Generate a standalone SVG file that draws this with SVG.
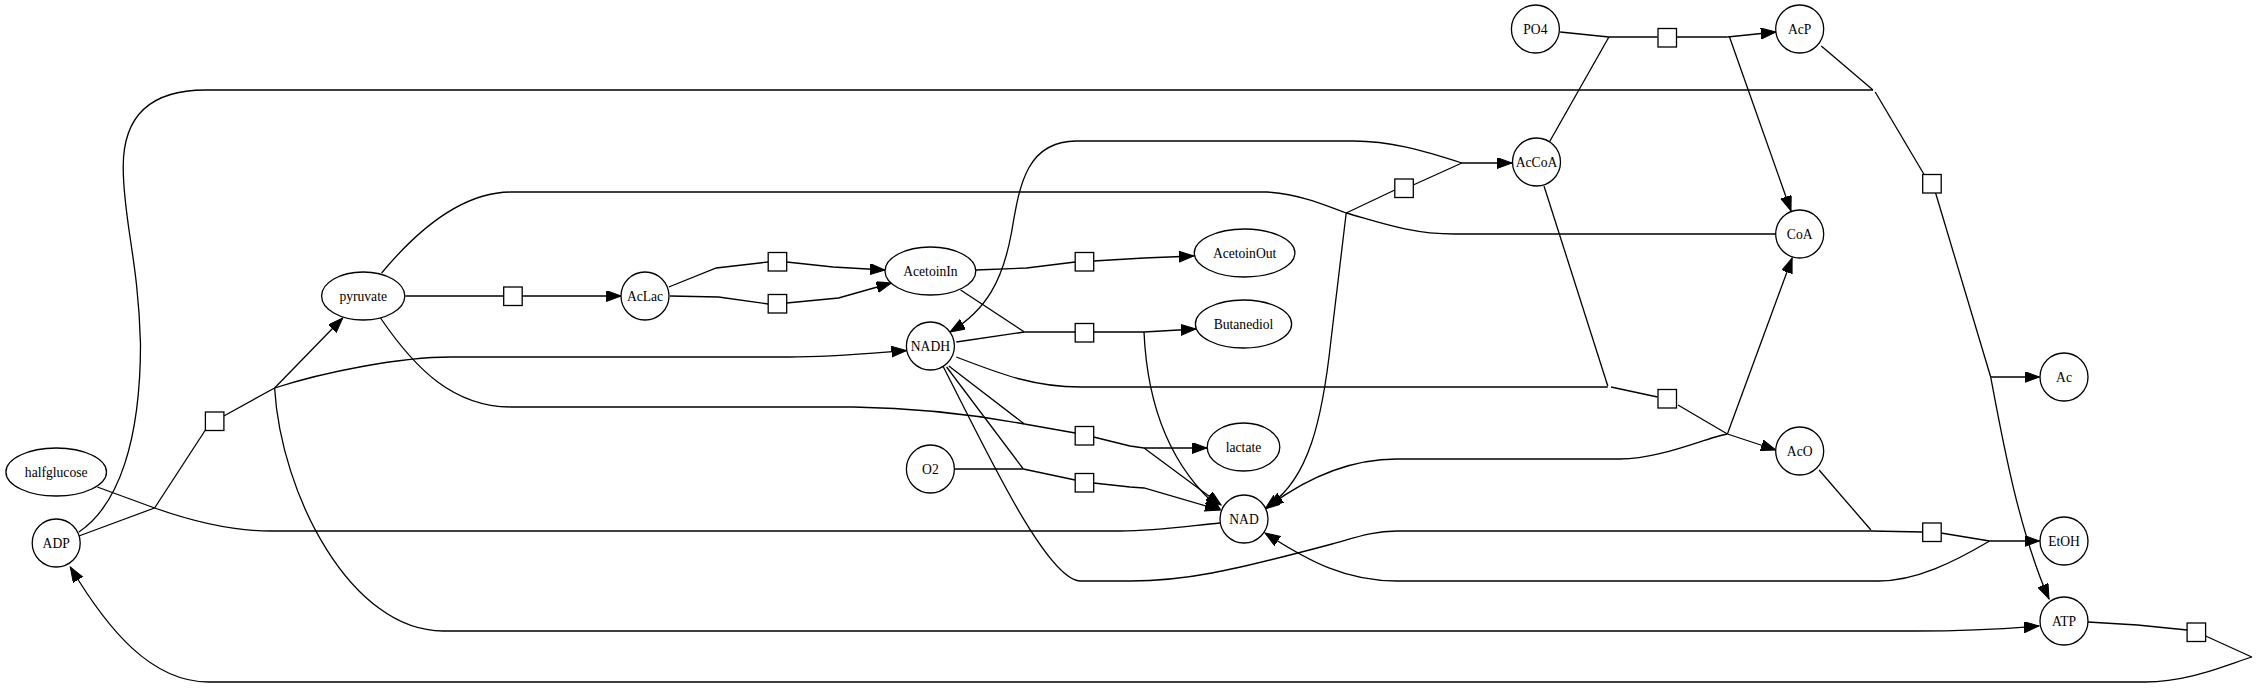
<svg xmlns="http://www.w3.org/2000/svg" width="2259" height="688" viewBox="0 0 2259 688">
<style>
.n{fill:#fff;stroke:#000;stroke-width:1.3}
.t{fill:#fff;stroke:#000;stroke-width:1.3}
.e{fill:none;stroke:#000;stroke-width:1.3}
.a{marker-end:url(#arr)}
text{font-family:"Liberation Serif","Times New Roman",serif;font-size:13.6px;text-anchor:middle;fill:#000}
</style>
<defs>
<marker id="arr" markerUnits="userSpaceOnUse" markerWidth="16" markerHeight="12" refX="15" refY="5.5" orient="auto">
<path d="M0,0 L15,5.5 L0,11 z" fill="#000" stroke="#000" stroke-width="1"/>
</marker>
</defs>
<rect width="2259" height="688" fill="#fff"/>
<g id="connectors">
<path class="e" d="M97.3,487 L154.6,508"/>
<path class="e" d="M1220,523 C1195,525 1160,531 1120,531 L270,531 C232,531 194,522 154.6,508"/>
<path class="e" d="M78.9,536 L154.6,508"/>
<path class="e" d="M154.6,508 L205.4,430"/>
<path class="e" d="M223.8,416 L274.6,388"/>
<path class="e a" d="M274.6,388 L342.7,318"/>
<path class="e a" d="M274.6,388 C324,372 400,357 451,357 L789,357 C830,357 873,353 906.5,350.5"/>
<path class="e a" d="M274.6,388 C281,495 351,631 443,631 L1916,631 C1981,631 2013,628 2039,626"/>
<path class="e" d="M405.4,296 L503.7,296"/>
<path class="e a" d="M522.1,296 L621.2,296"/>
<path class="e" d="M668.8,287 L716.3,268 L768.2,262"/>
<path class="e a" d="M786.6,262 L833.1,267 L885,270"/>
<path class="e" d="M669.9,296 L718.5,297 L768.2,304"/>
<path class="e a" d="M786.6,303 L838.5,298 L891.5,283"/>
<path class="e" d="M975.8,270 L1026.6,268 L1075.2,262"/>
<path class="e a" d="M1093.6,261 L1144,258 L1193.8,256"/>
<path class="e" d="M960.6,290 L1024.4,332"/>
<path class="e" d="M956.3,342 L1024.4,332"/>
<path class="e" d="M1024.4,332 L1075.2,332"/>
<path class="e a" d="M1093.6,332 L1144,332 L1195.9,329"/>
<path class="e a" d="M1144,332 C1147,400 1168,465 1220,509"/>
<path class="e" d="M380.5,318 C416,370 454,407 511.3,407 L853.6,407 C927,408 981,416 1024.4,424"/>
<path class="e" d="M948.8,366 L1024.4,424"/>
<path class="e" d="M1024.4,424 L1075.2,433"/>
<path class="e a" d="M1093.6,437 L1130,446 L1144,448 L1207,448"/>
<path class="e a" d="M1144,448 L1221,505"/>
<path class="e" d="M954.2,469 L1023.3,469"/>
<path class="e" d="M946.6,367 L1023.3,469"/>
<path class="e" d="M1023.3,469 L1075.2,480"/>
<path class="e a" d="M1093.6,483 L1130,487 L1144,488 L1220,510"/>
<path class="e" d="M381.6,273 C421.6,225 464.8,192 511.3,192 L1267.3,192 C1303,195 1324.6,205 1346.2,213"/>
<path class="e" d="M1776,234 L1454.3,234 C1411,234 1378.6,222 1346.2,213"/>
<path class="e a" d="M1346.2,213 L1331,340 C1322.4,420 1308.4,480 1268,506"/>
<path class="e" d="M1346.2,213 L1394.8,190"/>
<path class="e" d="M1413.2,185 L1461.9,163"/>
<path class="e a" d="M1461.9,163 L1512,163"/>
<path class="e a" d="M1461.9,163 C1421.9,150 1389.4,141 1353.8,141 L1076.3,141 C1024.4,141 1019,190 1011.4,233 C1002.8,280 986.6,310 950,332"/>
<path class="e" d="M1560.2,32 L1608.9,37"/>
<path class="e" d="M1549.4,142 L1608.9,37"/>
<path class="e" d="M1608.9,37 L1657.5,37"/>
<path class="e" d="M1677,37 L1727.4,37"/>
<path class="e a" d="M1727.4,37 L1775.9,32"/>
<path class="e a" d="M1729.5,37 L1791,211"/>
<path class="e" d="M1821.3,46 L1873,90"/>
<path class="e" d="M78.9,532 C118.9,505 140.5,440 140.5,344 C138.4,260 123.2,220 123.2,167 C123.2,115 151.3,90 205.4,90 L1873,90"/>
<path class="e" d="M1875.2,92 L1923.8,174"/>
<path class="e" d="M1935.6,193 L1990.7,377"/>
<path class="e a" d="M1990.7,377 L2039.5,377"/>
<path class="e a" d="M1990.7,377 C2002.5,440 2018.7,530 2049,599"/>
<path class="e" d="M1544,186 L1607.8,386"/>
<path class="e" d="M956.3,357 C1002.8,375 1035.2,387 1080.6,387 L1607.8,387"/>
<path class="e" d="M1611,387 L1657.5,397"/>
<path class="e" d="M1678,405 L1727.4,434"/>
<path class="e a" d="M1727.4,434 L1775.9,450"/>
<path class="e a" d="M1727.4,434 L1792.1,258"/>
<path class="e a" d="M1727.4,434 C1705,438 1660,459 1620,459 L1397,459 C1346,459 1303,480 1265,509"/>
<path class="e" d="M1819.1,470 L1870.9,530"/>
<path class="e" d="M943.4,367 C981.2,440 1046,581 1080.6,581 L1130,581 C1184,581 1227.3,572 1332.1,544 C1357,537 1373.2,531 1397,531 L1870.9,531"/>
<path class="e" d="M1870.9,531 L1922.7,532"/>
<path class="e" d="M1941,533 L1989.6,541"/>
<path class="e a" d="M1989.6,541 L2039.5,541"/>
<path class="e a" d="M1989.6,541 C1954,562 1916.2,581 1878.4,581 L1397,581 C1346.2,581 1310,562 1265,533"/>
<path class="e" d="M2087.8,622 L2137.4,625 L2187.1,630"/>
<path class="e" d="M2205.6,636 L2251.8,657"/>
<path class="e a" d="M2251.8,657 C2218.4,668 2186,682 2145,682 L208.6,682 C151.3,682 108,630 70.3,567"/>
</g>
<g id="halfglucose"><ellipse class="n" cx="56.2" cy="472" rx="50.3" ry="24"/><text x="56.2" y="476.7">halfglucose</text></g>
<g id="ADP"><ellipse class="n" cx="56.2" cy="543" rx="24" ry="24"/><text x="56.2" y="547.7">ADP</text></g>
<g id="pyruvate"><ellipse class="n" cx="363.2" cy="296" rx="41.6" ry="24"/><text x="363.2" y="300.7">pyruvate</text></g>
<g id="AcLac"><ellipse class="n" cx="645" cy="296" rx="24" ry="24"/><text x="645" y="300.7">AcLac</text></g>
<g id="AcetoinIn"><ellipse class="n" cx="930.4" cy="271" rx="45.4" ry="24"/><text x="930.4" y="275.7">AcetoinIn</text></g>
<g id="NADH"><ellipse class="n" cx="930.4" cy="346" rx="24" ry="24"/><text x="930.4" y="350.7">NADH</text></g>
<g id="O2"><ellipse class="n" cx="930.4" cy="469" rx="24" ry="24"/><text x="930.4" y="473.7">O2</text></g>
<g id="AcetoinOut"><ellipse class="n" cx="1244.6" cy="253" rx="50.3" ry="24"/><text x="1244.6" y="257.7">AcetoinOut</text></g>
<g id="Butanediol"><ellipse class="n" cx="1243.5" cy="324" rx="48.1" ry="24"/><text x="1243.5" y="328.7">Butanediol</text></g>
<g id="lactate"><ellipse class="n" cx="1243.5" cy="447" rx="36.3" ry="24"/><text x="1243.5" y="451.7">lactate</text></g>
<g id="NAD"><ellipse class="n" cx="1244" cy="519" rx="24" ry="24"/><text x="1244" y="523.7">NAD</text></g>
<g id="PO4"><ellipse class="n" cx="1535.4" cy="29" rx="24" ry="24"/><text x="1535.4" y="33.7">PO4</text></g>
<g id="AcCoA"><ellipse class="n" cx="1536.5" cy="162" rx="24" ry="24"/><text x="1536.5" y="166.7">AcCoA</text></g>
<g id="AcP"><ellipse class="n" cx="1799.7" cy="29" rx="24" ry="24"/><text x="1799.7" y="33.7">AcP</text></g>
<g id="CoA"><ellipse class="n" cx="1799.7" cy="234" rx="24" ry="24"/><text x="1799.7" y="238.7">CoA</text></g>
<g id="AcO"><ellipse class="n" cx="1799.7" cy="451" rx="24" ry="24"/><text x="1799.7" y="455.7">AcO</text></g>
<g id="Ac"><ellipse class="n" cx="2064" cy="377" rx="24" ry="24"/><text x="2064" y="381.7">Ac</text></g>
<g id="EtOH"><ellipse class="n" cx="2064" cy="541" rx="24" ry="24"/><text x="2064" y="545.7">EtOH</text></g>
<g id="ATP"><ellipse class="n" cx="2064" cy="621" rx="24" ry="24"/><text x="2064" y="625.7">ATP</text></g>
<g id="r_glycolysis"><rect class="t" x="205.4" y="412" width="18.5" height="18.5"/></g>
<g id="r_pyr_aclac"><rect class="t" x="503.7" y="287" width="18.5" height="18.5"/></g>
<g id="r_als1"><rect class="t" x="768.2" y="252.5" width="18.5" height="18.5"/></g>
<g id="r_als2"><rect class="t" x="768.2" y="294.5" width="18.5" height="18.5"/></g>
<g id="r_acetoin_out"><rect class="t" x="1075.2" y="252.5" width="18.5" height="18.5"/></g>
<g id="r_bdh"><rect class="t" x="1075.2" y="323.5" width="18.5" height="18.5"/></g>
<g id="r_ldh"><rect class="t" x="1075.2" y="426.5" width="18.5" height="18.5"/></g>
<g id="r_nox"><rect class="t" x="1075.2" y="473.5" width="18.5" height="18.5"/></g>
<g id="r_pdh"><rect class="t" x="1394.8" y="179" width="18.5" height="18.5"/></g>
<g id="r_pta"><rect class="t" x="1658" y="28.5" width="18.5" height="18.5"/></g>
<g id="r_ack"><rect class="t" x="1922.7" y="174.5" width="18.5" height="18.5"/></g>
<g id="r_adh1"><rect class="t" x="1658" y="389.5" width="18.5" height="18.5"/></g>
<g id="r_adh2"><rect class="t" x="1922.7" y="523" width="18.5" height="18.5"/></g>
<g id="r_atpase"><rect class="t" x="2187.1" y="623" width="18.5" height="18.5"/></g>
</svg>
